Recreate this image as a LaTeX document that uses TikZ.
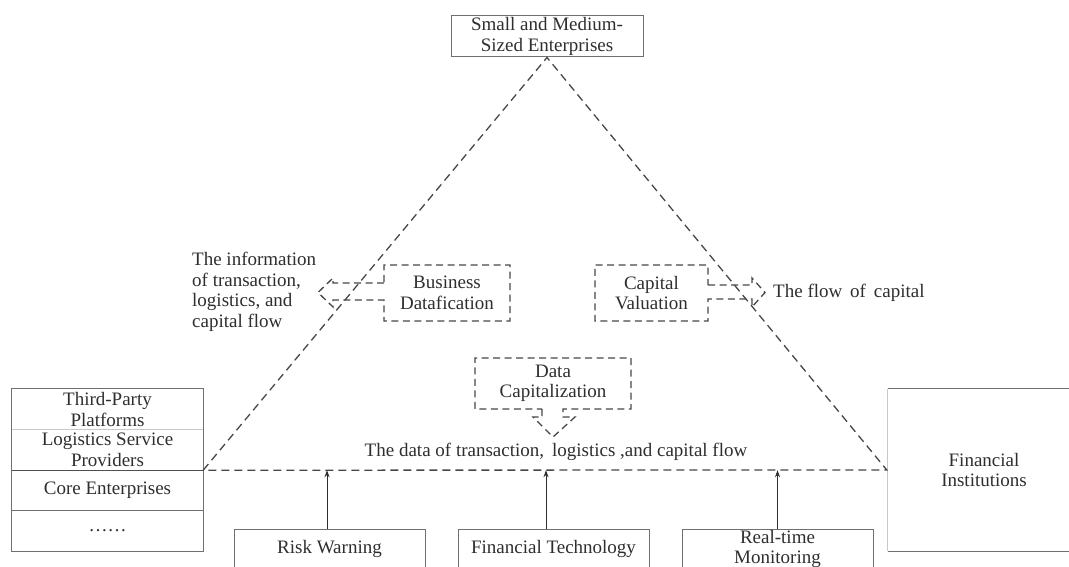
\documentclass[tikz,border=0pt]{standalone}
\usepackage{fontspec}
\setmainfont{Liberation Serif}
\usetikzlibrary{arrows.meta}
\definecolor{ink}{HTML}{2E2E2E}
\definecolor{frame}{HTML}{707070}
\definecolor{darkframe}{HTML}{4F4F4F}
\definecolor{lightframe}{HTML}{C8C8C8}
\definecolor{dashink}{HTML}{474747}
\begin{document}
\begin{tikzpicture}[x=1pt,y=-1pt,
  txt/.style={font=\fontsize{19}{20.5}\selectfont, text=ink, align=center, inner sep=0pt},
  cell/.style={txt, minimum width=191pt, minimum height=40.5pt},
  solidbox/.style={txt, draw=frame, line width=1pt, minimum width=191pt},
  dashframe/.style={draw=dashink, line width=1.3pt, dash pattern=on 7pt off 4.5pt, line join=miter},
  tri/.style={draw=dashink, line width=1.3pt, dash pattern=on 8pt off 5pt},
  uparrow/.style={draw=ink, line width=0.9pt, -{Stealth[length=7pt,width=5pt]}}
]
\useasboundingbox (0,0) rectangle (1069,567);
\clip (0,0) rectangle (1069,567);

% apex box
\node[solidbox, minimum width=192pt, minimum height=41pt] (sme) at (547,36.5) {Small and Medium-\\Sized Enterprises};

% left stack of participants
\node[cell] (tpp) at (107.5,409.25) {Third-Party\\Platforms};
\node[cell] (lsp) at (107.5,449.75) {Logistics Service\\Providers};
\node[cell] (core) at (107.5,490.25) {Core Enterprises};
\node[cell] (etc) at (107.5,530.75) {……};
\draw[frame, line width=1pt] (tpp.north west) rectangle (etc.south east);
\draw[lightframe, line width=1pt] (tpp.south west) -- (tpp.south east);
\draw[darkframe, line width=1pt] (lsp.south west) -- (lsp.south east);
\draw[frame, line width=1pt] (core.south west) -- (core.south east);

% financial institutions (runs off the right edge)
\node[txt, minimum width=192pt, minimum height=162pt] (fi) at (984,470) {Financial\\Institutions};
\draw[lightframe, line width=1.2pt] (fi.south west) -- (fi.north west);
\draw[frame, line width=1.2pt] (fi.north west) -- (fi.north east);
\draw[frame, line width=1.2pt] (fi.south west) -- (fi.south east);

% triangle
\coordinate (L) at (lsp.south east);
\coordinate (R) at ([xshift=-1pt]fi.west);
\draw[tri] (L) -- (sme.south) -- (R) -- cycle;

% business datafication with hollow arrow to the left
\node[txt] (bd) at (447,293) {Business\\Datafication};
\draw[dashframe] (384,283) -- (333,283) -- (333,278) -- (318,292.5) -- (333,307) -- (333,300)
  -- (384,300) -- (384,321) -- (510,321) -- (510,265) -- (384,265) -- cycle;
\node[txt, align=left, anchor=west] (info) at (192,292) {The information\\of transaction,\\logistics, and\\capital flow};

% capital valuation with hollow arrow to the right
\node[txt] (cv) at (651.5,293) {Capital\\Valuation};
\draw[dashframe] (708,285) -- (752,285) -- (752,278) -- (765,292.5) -- (752,307) -- (752,299)
  -- (708,299) -- (708,321) -- (595,321) -- (595,265) -- (708,265) -- cycle;
\node[txt, anchor=west] (flow) at (773,292.5) {The flow\, of\, capital};

% data capitalization with hollow arrow downwards
\node[txt] (dc) at (553,383.5) {Data\\Capitalization};
\draw[dashframe] (542,409) -- (542,417) -- (533,417) -- (553,437) -- (575,417) -- (563,417)
  -- (563,409) -- (631,409) -- (631,358) -- (475,358) -- (475,409) -- cycle;
\node[txt] (data) at (556,452) {The data of transaction,\, logistics ,and capital flow};

% supporting functions below the base
\node[solidbox, minimum height=80pt] (rw) at (329.5,569) {};
\node[solidbox, minimum height=80pt] (ft) at (553.5,569) {};
\node[solidbox, minimum height=80pt] (rt) at (777.5,569) {};
\node[txt] (rwl) at (329.5,549) {Risk Warning};
\node[txt] (ftl) at (553.5,549) {Financial Technology};
\node[txt] (rtl) at (777.5,549) {Real-time\\Monitoring};

\coordinate (rwtop) at ([xshift=-2.5pt]rw.north);
\coordinate (fttop) at ([xshift=-7.5pt]ft.north);
\coordinate (rttop) at (rt.north);
\draw[uparrow] (rwtop) -- (rwtop |- L);
\draw[uparrow] (fttop) -- (fttop |- L);
\draw[uparrow] (rttop) -- (rttop |- L);
\end{tikzpicture}
\end{document}
